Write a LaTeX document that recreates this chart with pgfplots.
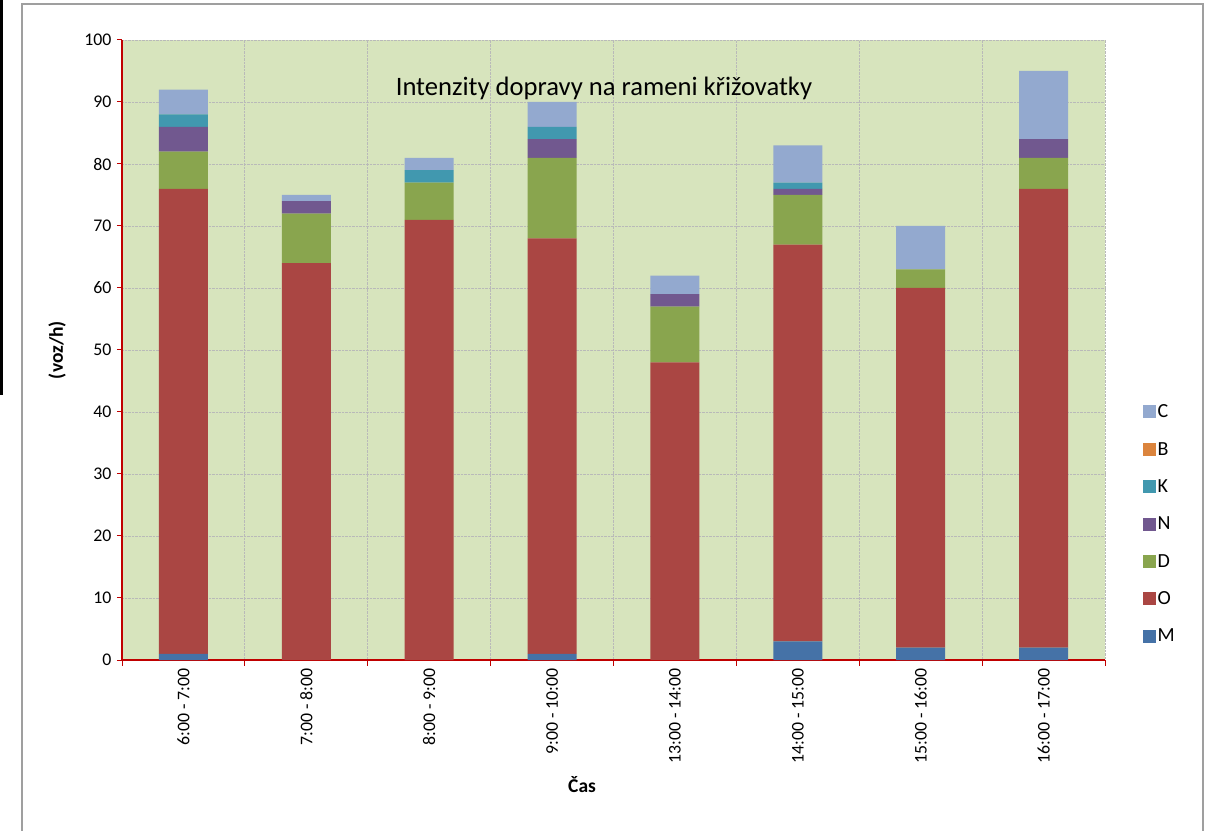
\documentclass[border=0pt]{standalone}
\usepackage{fontspec}
\setmainfont{Carlito}
\usepackage{pgfplots}
\pgfplotsset{compat=1.18}
\definecolor{cM}{HTML}{4572A7}
\definecolor{cO}{HTML}{AA4643}
\definecolor{cD}{HTML}{89A54E}
\definecolor{cN}{HTML}{71588F}
\definecolor{cK}{HTML}{4198AF}
\definecolor{cB}{HTML}{DB843D}
\definecolor{cC}{HTML}{93A9CF}
\definecolor{bgc}{HTML}{D7E4BD}
\definecolor{axred}{HTML}{C00000}
\begin{document}
\begin{tikzpicture}[x=1pt,y=1pt]
\useasboundingbox (0,0) rectangle (1226,830);
\fill[white] (0,0) rectangle (1226,830);
\draw[gray!75, line width=1.5pt] (22,826) rectangle (1203,-6);
\fill[black] (0,435) rectangle (3,830);
\begin{axis}[
  at={(122pt,170pt)}, anchor=south west,
  scale only axis, width=983pt, height=620pt,
  ybar stacked, bar width=49pt,
  xmin=-0.5, xmax=7.5, ymin=0, ymax=100,
  xtick={0,...,7},
  xticklabels={6:00 - 7:00,7:00 - 8:00,8:00 - 9:00,9:00 - 10:00,13:00 - 14:00,14:00 - 15:00,15:00 - 16:00,16:00 - 17:00},
  minor xtick={-0.5,0.5,...,7.5},
  ytick={0,10,...,100},
  axis x line*=bottom, axis y line*=left,
  axis line style={axred, line width=1.2pt, -},
  tick align=outside,
  major tick length=5pt, minor tick length=6pt,
  every major x tick/.style={draw=none},
  every minor x tick/.style={axred, line width=1pt},
  every major y tick/.style={axred, line width=1pt},
  xmajorgrids=false, xminorgrids=true, ymajorgrids=true,
  major grid style={densely dotted, gray!55, line width=0.9pt},
  minor grid style={densely dotted, gray!55, line width=0.9pt},
  axis background/.style={fill=bgc},
  /pgf/number format/assume math mode=true,
  yticklabel style={font=\fontsize{17.8}{18}\selectfont, xshift=-2pt},
  xticklabel style={font=\fontsize{17.8}{18}\selectfont, rotate=90, anchor=east},
  xlabel={Čas}, ylabel={(voz/h)},
  xlabel style={font=\fontsize{19.5}{20}\selectfont\bfseries, at={(axis description cs:0.468,-0.2016)}, anchor=center},
  ylabel style={font=\fontsize{19.5}{20}\selectfont\bfseries, at={(axis description cs:-0.066,0.5)}, anchor=center, rotate=0},
  title={Intenzity dopravy na rameni křižovatky},
  title style={font=\fontsize{26.6}{28}\selectfont, at={(axis description cs:0.4903,0.900)}, anchor=base},
  legend style={draw=none, fill=none, font=\fontsize{20}{22}\selectfont, at={(axis description cs:1.035,0.4185)}, anchor=north west, row sep=19pt},
  legend cell align=left,
  reverse legend,
  legend image code/.code={\fill[#1,draw=none] (0pt,-6.5pt) rectangle (13pt,6.5pt);},
]
\addplot[fill=cM, draw=none] coordinates {(0,1) (1,0) (2,0) (3,1) (4,0) (5,3) (6,2) (7,2)};
\addlegendentry{M}
\addplot[fill=cO, draw=none] coordinates {(0,75) (1,64) (2,71) (3,67) (4,48) (5,64) (6,58) (7,74)};
\addlegendentry{O}
\addplot[fill=cD, draw=none] coordinates {(0,6) (1,8) (2,6) (3,13) (4,9) (5,8) (6,3) (7,5)};
\addlegendentry{D}
\addplot[fill=cN, draw=none] coordinates {(0,4) (1,2) (2,0) (3,3) (4,2) (5,1) (6,0) (7,3)};
\addlegendentry{N}
\addplot[fill=cK, draw=none] coordinates {(0,2) (1,0) (2,2) (3,2) (4,0) (5,1) (6,0) (7,0)};
\addlegendentry{K}
\addplot[fill=cB, draw=none] coordinates {(0,0) (1,0) (2,0) (3,0) (4,0) (5,0) (6,0) (7,0)};
\addlegendentry{B}
\addplot[fill=cC, draw=none] coordinates {(0,4) (1,1) (2,2) (3,4) (4,3) (5,6) (6,7) (7,11)};
\addlegendentry{C}
\end{axis}
\end{tikzpicture}
\end{document}
